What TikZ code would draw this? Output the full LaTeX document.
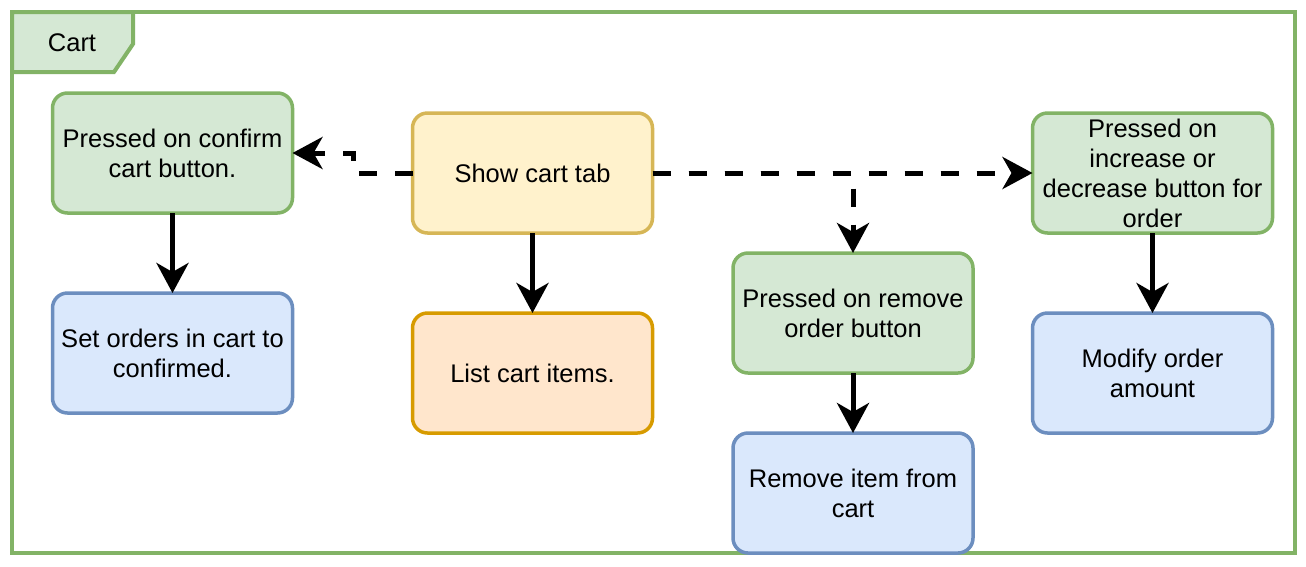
\documentclass[tikz,border=0pt]{standalone}
\usepackage{fontspec}
\setmainfont{Liberation Sans}
\usetikzlibrary{arrows.meta}
\definecolor{gfill}{HTML}{D5E8D4}
\definecolor{gline}{HTML}{82B366}
\definecolor{bfill}{HTML}{DAE8FC}
\definecolor{bline}{HTML}{6C8EBF}
\definecolor{yfill}{HTML}{FFF2CC}
\definecolor{yline}{HTML}{D6B656}
\definecolor{ofill}{HTML}{FFE6CC}
\definecolor{oline}{HTML}{D79B00}
\tikzset{
  box/.style={rectangle, rounded corners=15pt, line width=3.5pt, minimum width=240pt, minimum height=120pt, outer sep=0pt, align=center, font=\fontsize{25.5}{30}\selectfont, text=black},
  gbox/.style={box, fill=gfill, draw=gline},
  bbox/.style={box, fill=bfill, draw=bline},
  ybox/.style={box, fill=yfill, draw=yline},
  obox/.style={box, fill=ofill, draw=oline},
  solidarr/.style={line width=5pt, -{Stealth[length=30pt,width=32pt,inset=9pt]}},
  dasharr/.style={line width=5pt, dash pattern=on 18pt off 18pt, -{Stealth[length=30pt,width=32pt,inset=9pt]}},
}
\begin{document}
\begin{tikzpicture}[x=1pt,y=-1pt]
\useasboundingbox (0,0) rectangle (1306,566);
% frame
\draw[line width=4pt, draw=gline] (12,12) rectangle (1295,553);
\path[fill=gfill, draw=gline, line width=4pt, line join=miter] (12,12) -- (133,12) -- (133,44) -- (114,72) -- (12,72) -- cycle;
\node[font=\fontsize{25.5}{30}\selectfont, text=black] (cartlbl) at (72,43) {Cart};
% nodes
\node[gbox] (confirm) at (172.5,153) {Pressed on confirm\\cart button.};
\node[bbox] (setorders) at (172.5,353) {Set orders in cart to\\confirmed.};
\node[ybox] (show) at (532.5,173) {Show cart tab};
\node[obox] (list) at (532.5,373) {List cart items.};
\node[gbox] (remove) at (853,313) {Pressed on remove\\order button};
\node[bbox] (removeitem) at (853,493) {Remove item from\\cart};
\node[gbox] (incr) at (1152.5,173) {Pressed on\\increase or\\decrease button for\\order};
\node[bbox] (modify) at (1152.5,373) {Modify order\\amount};
% solid arrows
\draw[solidarr] (confirm.south) -- (setorders.north);
\draw[solidarr] (show.south) -- (list.north);
\draw[solidarr] (remove.south) -- (removeitem.north);
\draw[solidarr] (incr.south) -- (modify.north);
% dashed arrows
\draw[dasharr] (show.west) -- (353,173) -- (353,153) -- (confirm.east);
\draw[dasharr] (show.east) -- (incr.west);
\draw[dasharr] (show.east) -- (853,173) -- (remove.north);
\end{tikzpicture}
\end{document}
